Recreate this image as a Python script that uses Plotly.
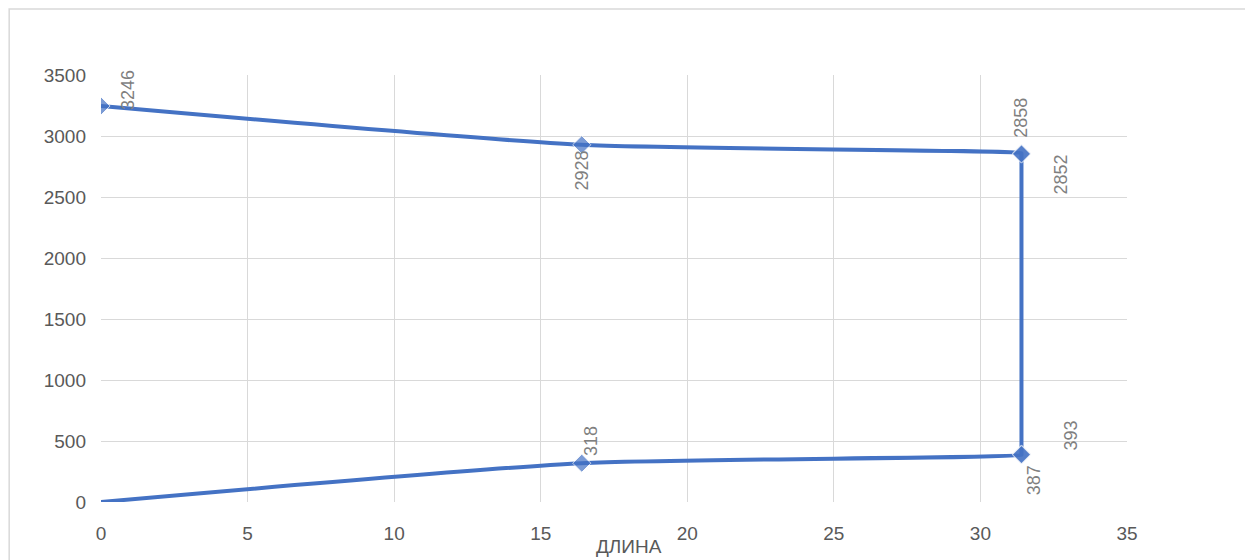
import plotly.graph_objects as go

# Data
x_vals = [0, 16.4, 31.4, 31.4, 31.4, 31.4, 16.4, 0]
y_vals = [3246, 2928, 2858, 2852, 393, 387, 318, 0]
labels = ["3246", "2928", "2858", "2852", "393", "387", "318", ""]
marker_sizes = [14, 14, 14, 14, 14, 14, 14, 0]
# label offsets (pixels) for each data label
label_dx = [27, 0, 0, 40, 50, 12, 9, 0]
label_dy = [16, -26, 36, -20, 19, -25, 22, 0]

x_title = "ДЛИНА"
x_ticks = [0, 5, 10, 15, 20, 25, 30, 35]
y_ticks = [0, 500, 1000, 1500, 2000, 2500, 3000, 3500]

LINE = "#4472C4"
GRID = "#D9D9D9"
TICK = "#595959"
LABEL = "#7F7F7F"
FONT = "Liberation Sans, Arial, sans-serif"

fig = go.Figure()
fig.add_trace(go.Scatter(
    x=x_vals, y=y_vals, mode="lines+markers",
    line=dict(color=LINE, width=4, shape="spline", smoothing=0.6),
    marker=dict(symbol="diamond", size=marker_sizes, color=LINE),
    showlegend=False, hoverinfo="x+y",
))

for xv, yv, t, dx, dy in zip(x_vals, y_vals, labels, label_dx, label_dy):
    if not t:
        continue
    fig.add_annotation(
        x=xv, y=yv, xref="x", yref="y", text=t, showarrow=False,
        textangle=-90, xshift=dx, yshift=dy,
        font=dict(family=FONT, size=18, color=LABEL),
    )

fig.add_annotation(
    x=0.5146, y=-0.105, xref="paper", yref="paper", text=x_title,
    showarrow=False, yanchor="middle",
    font=dict(family=FONT, size=19, color=TICK),
)

# outer chart border
fig.add_shape(type="rect", xref="paper", yref="paper",
              x0=-0.0895, x1=1.1199, y0=-0.2, y1=1.1545,
              line=dict(color=GRID, width=1.5), fillcolor="rgba(0,0,0,0)",
              layer="below")

fig.update_layout(
    width=1253, height=560,
    margin=dict(l=93, r=134, t=67, b=66),
    paper_bgcolor="white", plot_bgcolor="white",
    font=dict(family=FONT, size=19, color=TICK),
    xaxis=dict(range=[0, 35], tickvals=x_ticks, showgrid=True, gridcolor=GRID,
               gridwidth=1, zeroline=False, showline=False,
               ticklabelstandoff=18, tickfont=dict(size=19, color=TICK)),
    yaxis=dict(range=[0, 3500], tickvals=y_ticks, showgrid=True, gridcolor=GRID,
               gridwidth=1, zeroline=False, showline=False,
               ticklabelstandoff=14, tickfont=dict(size=19, color=TICK)),
)

fig.write_html("out.html")
